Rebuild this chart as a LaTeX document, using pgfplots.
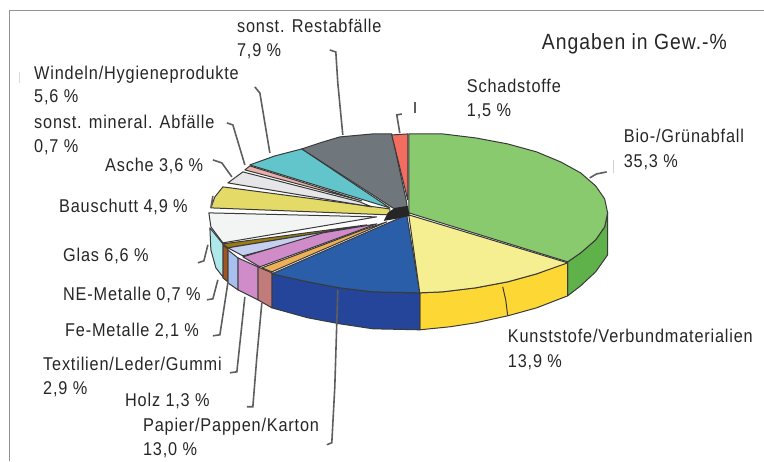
\documentclass[border=0pt]{standalone}
\usepackage{fontspec}
\setmainfont[FakeStretch=0.88,LetterSpace=4.5]{Liberation Sans}
\usepackage{pgfplots}
\pgfplotsset{compat=1.18}
\definecolor{cgreen}{HTML}{8ACA6E}
\definecolor{cgreens}{HTML}{5FB24A}
\definecolor{cylight}{HTML}{F6EF92}
\definecolor{cgold}{HTML}{FDD835}
\definecolor{cblue}{HTML}{2B5EA8}
\definecolor{cblues}{HTML}{24459A}
\definecolor{corange}{HTML}{EEB057}
\definecolor{crose}{HTML}{C17B7B}
\definecolor{cviolet}{HTML}{D08BC9}
\definecolor{clb}{HTML}{C5CFF0}
\definecolor{clbs}{HTML}{A8C0EE}
\definecolor{cne}{HTML}{9B7B10}
\definecolor{cbrown}{HTML}{A0561C}
\definecolor{cwhite}{HTML}{F3F4F4}
\definecolor{ccyan}{HTML}{AEE8EA}
\definecolor{cyel}{HTML}{E3DA68}
\definecolor{casche}{HTML}{E6E6E8}
\definecolor{cpink}{HTML}{E8B0A8}
\definecolor{cteal}{HTML}{63C5CC}
\definecolor{cgrey}{HTML}{6F777D}
\definecolor{cred}{HTML}{F26D5F}
\definecolor{edge}{HTML}{3A3A3A}
\definecolor{lead}{HTML}{5E5E5E}
\definecolor{txt}{HTML}{262626}
\pgfplotsset{
  sl/.style={fill=#1,draw=edge,line width=1pt,line join=round,no markers,forget plot},
  ld/.style={draw=lead,line width=1.6pt,no markers,forget plot},
  fr/.style={draw=gray!85,line width=0.9pt,no markers,forget plot}
}
\newcommand{\lb}[3]{\node[anchor=base west,inner sep=0pt,text=txt,font=\fontsize{18.5}{18.5}\selectfont] at (axis cs:#1,#2) {#3};}
\begin{document}
\begin{tikzpicture}
\begin{axis}[
  scale only axis,width=764pt,height=461pt,
  xmin=0,xmax=764,ymin=0,ymax=461,y dir=reverse,
  axis lines=none,clip=false]
\path (axis cs:0,0) rectangle (axis cs:764,461);
% frame
\addplot[fr] coordinates {(9,461) (9,10) (764,10)};
% side faces
\addplot[sl=cgreens] coordinates {(568,262) (581,253) (596,240) (605,227) (608,213) (608,255) (596,272) (581,286) (568,296)} --cycle;
\addplot[sl=cgold] coordinates {(568,262) (537,274) (508,282) (476,288) (443,292) (420,293) (420,330) (450,327) (476,323) (508,316) (537,308) (568,296)} --cycle;
\addplot[sl=cblues] coordinates {(420,293) (373,292) (340,288) (308,282) (272,273) (272,308) (308,318) (340,324) (373,329) (420,330)} --cycle;
\addplot[sl=crose] coordinates {(258,267) (272,273) (272,308) (258,300)} --cycle;
\addplot[sl=cviolet] coordinates {(238,258) (258,267) (258,300) (238,290)} --cycle;
\addplot[sl=clbs] coordinates {(228,250) (238,258) (238,290) (228,283)} --cycle;
\addplot[sl=cbrown] coordinates {(223,245) (228,249) (228,282) (223,278)} --cycle;
\addplot[sl=ccyan] coordinates {(210,228) (223,244) (223,277) (216,268) (211,250)} --cycle;
\addplot[draw=edge,line width=1pt,no markers,forget plot] coordinates {(503,287) (506,300) (508,316)};
% top faces
\addplot[sl=cwhite] coordinates {(209,213) (211,227) (223,243) (377,217)} --cycle;
\addplot[sl=cne] coordinates {(223,244) (228,248) (350,228) (367,225)} --cycle;
\addplot[sl=clb] coordinates {(228,248) (243,256) (350,228)} --cycle;
\addplot[sl=cviolet] coordinates {(243,257) (260,267) (377,224) (323,233)} --cycle;
\addplot[sl=corange] coordinates {(262,268) (272,272) (387,222) (363,230)} --cycle;
\addplot[sl=cblue] coordinates {(407,215) (420,293) (373,292) (340,288) (308,282) (272,274)} --cycle;
\addplot[sl=cylight] coordinates {(409,215) (568,263) (537,274) (508,282) (476,288) (443,292) (420,293)} --cycle;
\addplot[sl=cgreen] coordinates {(409,213) (409,134) (443,134) (476,138) (508,144) (537,152) (561,162) (581,173) (596,186) (605,199) (608,213) (605,227) (596,240) (581,253) (568,262)} --cycle;
\addplot[sl=cyel] coordinates {(223,187) (215,197) (211,208) (390,215) (390,209)} --cycle;
\addplot[sl=casche] coordinates {(228,183) (243,172) (360,202) (372,207)} --cycle;
\addplot[sl=cpink] coordinates {(245,170) (250,166) (362,201)} --cycle;
\addplot[sl=cteal] coordinates {(250,165) (275,156) (302,149) (390,208)} --cycle;
\addplot[sl=cgrey] coordinates {(302,149) (320,143) (340,137) (373,134) (392,134) (407,203) (407,213) (393,208)} --cycle;
\addplot[sl=cred] coordinates {(392,135) (408,134) (408,200)} --cycle;
\addplot[fill=black!85,draw=none,no markers,forget plot] coordinates {(388,213) (395,208) (408,206) (410,216) (396,219) (384,221)} --cycle;
% leaders
\addplot[ld] coordinates {(330,50) (336,52) (338,83) (343,135)};
\addplot[ld] coordinates {(255,87) (260,93) (270,153)};
\addplot[ld] coordinates {(227,123) (233,125) (245,165)};
\addplot[ld] coordinates {(213,160) (222,163) (232,177)};
\addplot[ld] coordinates {(213,196) (211,208)};
\addplot[ld] coordinates {(198,263) (204,261) (208,245)};
\addplot[ld] coordinates {(207,300) (213,299) (218,280)};
\addplot[ld] coordinates {(213,336) (220,335) (228,283)};
\addplot[ld] coordinates {(230,373) (237,372) (245,297)};
\addplot[ld] coordinates {(247,407) (253,407) (257,357) (262,303)};
\addplot[ld] coordinates {(327,445) (332,443) (335,387) (338,290)};
\addplot[ld] coordinates {(402,114) (397,115) (400,133)};
\addplot[ld] coordinates {(415,102) (415,113)};
\addplot[ld] coordinates {(607,172) (597,174) (590,178)};
\addplot[draw=gray!35,line width=1pt,no markers,forget plot] coordinates {(614,160) (614,173)};
\addplot[draw=gray!30,line width=1pt,no markers,forget plot] coordinates {(20,72) (20,83)};
% labels
\node[anchor=base west,inner sep=0pt,text=txt,font=\fontsize{22}{22}\selectfont] at (axis cs:542,50) {Angaben in Gew.-\%};
\lb{237}{33}{sonst. Restabfälle}
\lb{237}{57}{7,9 \%}
\lb{467}{93}{Schadstoffe}
\lb{467}{117}{1,5 \%}
\lb{624}{143}{Bio-/Grünabfall}
\lb{624}{168}{35,3 \%}
\lb{508}{343}{Kunststofe/Verbundmaterialien}
\lb{508}{368}{13,9 \%}
\lb{34}{80}{Windeln/Hygieneprodukte}
\lb{34}{103}{5,6 \%}
\lb{34}{129}{sonst. mineral. Abfälle}
\lb{34}{153}{0,7 \%}
\lb{105}{172}{Asche 3,6 \%}
\lb{59}{213}{Bauschutt 4,9 \%}
\lb{63}{262}{Glas 6,6 \%}
\lb{63}{301}{NE-Metalle 0,7 \%}
\lb{65}{337}{Fe-Metalle 2,1 \%}
\lb{43}{371}{Textilien/Leder/Gummi}
\lb{43}{395}{2,9 \%}
\lb{125}{407}{Holz 1,3 \%}
\lb{143}{432}{Papier/Pappen/Karton}
\lb{143}{456}{13,0 \%}
\end{axis}
\end{tikzpicture}
\end{document}
